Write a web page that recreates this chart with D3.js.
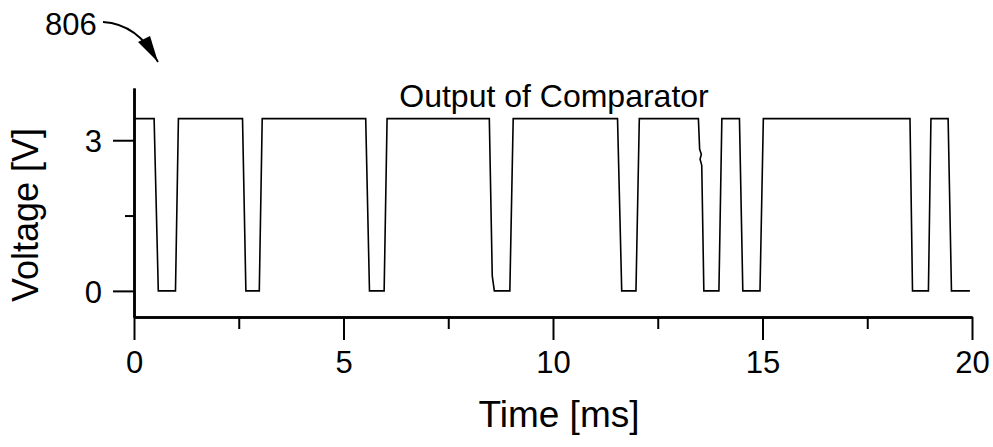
<!DOCTYPE html>
<html lang="en">

<head>
    <meta charset="UTF-8">
    <title>Output of Comparator</title>
    <style>
        body {
            margin: 0;
            padding: 0;
            background: #fff;
        }

        svg {
            display: block;
        }

        text {
            font-family: "Liberation Sans", Arial, sans-serif;
            fill: #000;
        }
    </style>
</head>

<body>
    <svg width="993" height="447"></svg>

    <script src="https://cdn.jsdelivr.net/npm/d3@7"></script>
    <script>
        // Comparator trace, corner points
        const timeMs = [
            0, 0.48, 0.58, 0.99, 1.06,
            2.59, 2.67, 2.99, 3.06,
            5.53, 5.62, 5.97, 6.04,
            8.48, 8.55, 8.60, 8.97, 9.05,
            11.54, 11.64, 11.98, 12.06,
            13.47, 13.50, 13.54, 13.51, 13.55, 13.60, 13.96, 14.03,
            14.45, 14.53, 14.94, 15.02,
            18.52, 18.58, 18.96, 19.02,
            19.43, 19.51, 19.95
        ];
        const voltage = [
            3.43, 3.43, 0, 0, 3.43,
            3.43, 0, 0, 3.43,
            3.43, 0, 0, 3.43,
            3.43, 0.3, 0, 0, 3.43,
            3.43, 0, 0, 3.43,
            3.43, 2.82, 2.72, 2.62, 2.5, 0, 0, 3.43,
            3.43, 0, 0, 3.43,
            3.43, 0, 0, 3.43,
            3.43, 0, 0
        ];

        const xMajorTicks = [0, 5, 10, 15, 20];
        const xMinorTicks = [2.5, 7.5, 12.5, 17.5];
        const yMajorTicks = [0, 3];
        const yMinorTicks = [1.5];

        const title = "Output of Comparator";
        const xLabel = "Time [ms]";
        const yLabel = "Voltage [V]";
        const refLabel = "806";

        const svg = d3.select("svg");

        const x = d3.scaleLinear().domain([0, 20]).range([134, 972]);
        const y = d3.scaleLinear().domain([-0.52, 4.04]).range([317, 88]);

        const points = timeMs.map((t, i) => [t, voltage[i]]);

        // minor ticks first, majors with labels on top
        svg.append("g")
            .attr("transform", `translate(0,${y(-0.52)})`)
            .call(d3.axisBottom(x).tickValues(xMinorTicks).tickSize(12).tickSizeOuter(0).tickFormat(""));

        const xAxis = svg.append("g")
            .attr("transform", `translate(0,${y(-0.52)})`)
            .call(d3.axisBottom(x).tickValues(xMajorTicks).tickSize(23).tickSizeOuter(0)
                .tickPadding(11).tickFormat(d3.format("d")));

        svg.append("g")
            .attr("transform", `translate(${x(0)},0)`)
            .call(d3.axisLeft(y).tickValues(yMinorTicks).tickSize(9).tickSizeOuter(0).tickFormat(""));

        const yAxis = svg.append("g")
            .attr("transform", `translate(${x(0)},0)`)
            .call(d3.axisLeft(y).tickValues(yMajorTicks).tickSize(21).tickSizeOuter(0)
                .tickPadding(11).tickFormat(d3.format("d")));

        svg.selectAll(".domain").attr("stroke-width", 2.5);
        svg.selectAll(".tick line").attr("stroke-width", 2);
        svg.selectAll(".tick text")
            .style("font-family", "'Liberation Sans', Arial, sans-serif")
            .style("font-size", "31px");
        yAxis.selectAll(".tick text").attr("dy", "0.36em");

        // the trace itself
        svg.append("path")
            .datum(points)
            .attr("fill", "none")
            .attr("stroke", "#000")
            .attr("stroke-width", 1.6)
            .attr("stroke-linejoin", "miter")
            .attr("d", d3.line().x(d => x(d[0])).y(d => y(d[1])));

        svg.append("text")
            .attr("x", 554)
            .attr("y", 107)
            .attr("text-anchor", "middle")
            .style("font-size", "32px")
            .text(title);

        svg.append("text")
            .attr("x", 559)
            .attr("y", 427)
            .attr("text-anchor", "middle")
            .style("font-size", "37px")
            .text(xLabel);

        svg.append("text")
            .attr("transform", "translate(38,215) rotate(-90)")
            .attr("text-anchor", "middle")
            .style("font-size", "36px")
            .text(yLabel);

        // figure reference numeral with its curved arrow
        svg.append("text")
            .attr("x", 45)
            .attr("y", 35)
            .style("font-size", "31px")
            .text(refLabel);

        svg.append("path")
            .attr("d", "M103,22 Q138,24 158,62")
            .attr("fill", "none")
            .attr("stroke", "#000")
            .attr("stroke-width", 1.8);

        svg.append("path")
            .attr("d", "M138,42 L150,36 L158,62 Z")
            .attr("fill", "#000");
    </script>

</body>

</html>
